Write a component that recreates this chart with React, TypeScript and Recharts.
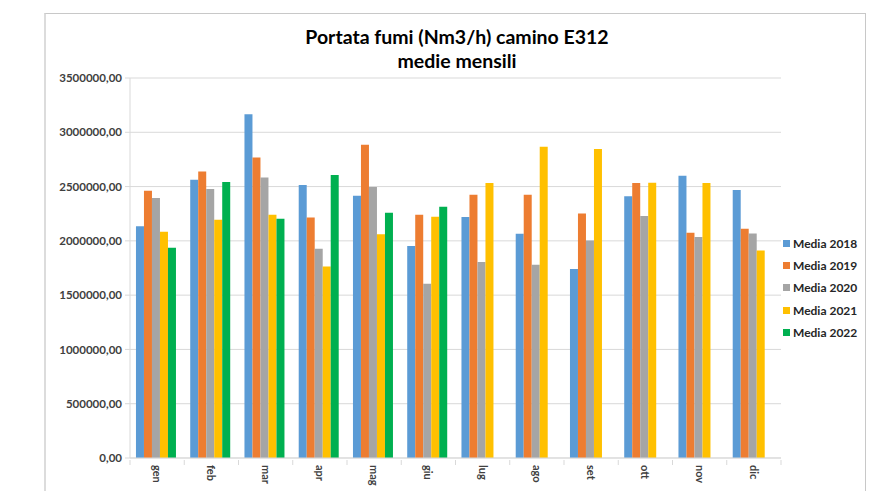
import React from "react";
import { BarChart, Bar, XAxis, YAxis, CartesianGrid, Legend } from "recharts";

const months = ["gen", "feb", "mar", "apr", "mag", "giu", "lug", "ago", "set", "ott", "nov", "dic"];
const media2018 = [2135000, 2563000, 3167000, 2514000, 2415000, 1952000, 2219000, 2065000, 1740000, 2412000, 2599000, 2468000];
const media2019 = [2461000, 2639000, 2768000, 2215000, 2885000, 2240000, 2424000, 2424000, 2252000, 2532000, 2074000, 2111000];
const media2020 = [2394000, 2477000, 2584000, 1927000, 2495000, 1605000, 1805000, 1780000, 2004000, 2228000, 2035000, 2068000];
const media2021 = [2084000, 2194000, 2240000, 1764000, 2062000, 2222000, 2532000, 2866000, 2845000, 2535000, 2532000, 1912000];
const media2022 = [1936000, 2541000, 2203000, 2606000, 2259000, 2314000, null, null, null, null, null, null];
const yTicks = [0, 500000, 1000000, 1500000, 2000000, 2500000, 3000000, 3500000];

const seriesDefs = [
  { key: "m2018", name: "Media 2018", color: "#5B9BD5", values: media2018 },
  { key: "m2019", name: "Media 2019", color: "#ED7D31", values: media2019 },
  { key: "m2020", name: "Media 2020", color: "#A5A5A5", values: media2020 },
  { key: "m2021", name: "Media 2021", color: "#FFC000", values: media2021 },
  { key: "m2022", name: "Media 2022", color: "#00B050", values: media2022 },
];

const data = months.map((m, i) => {
  const row: any = { month: m };
  seriesDefs.forEach((s) => {
    row[s.key] = s.values[i];
  });
  return row;
});

const FONT = "Lato, 'Open Sans', sans-serif";

const fmt = (v: number) => v.toFixed(2).replace(".", ",");

const XTick = (props: any) => {
  const { x, y, payload, index, visibleTicksCount } = props;
  const off = payload && typeof payload.offset === "number" ? payload.offset : 0;
  const axisY = y - 6;
  return (
    <g>
      {off > 0 && <line x1={x - off} x2={x - off} y1={axisY} y2={axisY + 5} stroke="#d9d9d9" />}
      {off > 0 && index === (visibleTicksCount ?? 12) - 1 && (
        <line x1={x + off} x2={x + off} y1={axisY} y2={axisY + 5} stroke="#d9d9d9" />
      )}
      <text
        x={x}
        y={axisY + 5}
        transform={`rotate(90, ${x}, ${axisY + 5})`}
        textAnchor="start"
        dy="0.36em"
        fontFamily={FONT}
        fontWeight={700}
        fontSize={11}
        fill="#404040"
      >
        {payload.value}
      </text>
    </g>
  );
};

const LegendContent = () => (
  <div style={{ fontFamily: FONT }}>
    {seriesDefs.map((s) => (
      <div key={s.key} style={{ display: "flex", alignItems: "center", height: 22.3 }}>
        <span style={{ display: "inline-block", width: 7, height: 7, background: s.color, marginRight: 3 }} />
        <span style={{ fontSize: 12, fontWeight: 700, color: "#262626" }}>{s.name}</span>
      </div>
    ))}
  </div>
);

export default function App() {
  return (
    <div style={{ position: "absolute", left: 0, top: 0, width: 871, height: 491, background: "#fff" }}>
      <div
        style={{
          position: "absolute",
          left: 44,
          top: 13,
          width: 822,
          height: 490,
          borderTop: "1px solid #c8c8c8",
          borderLeft: "2px solid #dcdcdc",
          borderRight: "1px solid #c8c8c8",
          boxSizing: "border-box",
        }}
      />
      <div
        style={{
          position: "absolute",
          left: 0,
          width: 914,
          top: 25,
          textAlign: "center",
          fontFamily: FONT,
          fontWeight: 700,
          fontSize: 19.5,
          lineHeight: "24px",
          color: "#000",
        }}
      >
        <div>Portata fumi (Nm3/h) camino E312</div>
        <div>medie mensili</div>
      </div>
      <BarChart
        width={871}
        height={491}
        data={data}
        margin={{ top: 78, right: 90, bottom: 0, left: 0 }}
        barCategoryGap="11%"
        barGap={0}
        style={{ position: "absolute", left: 0, top: 0 }}
      >
        <CartesianGrid vertical={false} stroke="#d9d9d9" />
        <XAxis
          dataKey="month"
          axisLine={{ stroke: "#d9d9d9" }}
          tickLine={false}
          interval={0}
          height={33}
          tick={<XTick />}
        />
        <YAxis
          width={130}
          domain={[0, 3500000]}
          ticks={yTicks}
          interval={0}
          tickFormatter={fmt}
          axisLine={{ stroke: "#d9d9d9" }}
          tickLine={{ stroke: "#d9d9d9" }}
          tickSize={5}
          tickMargin={3}
          tick={{ fontFamily: FONT, fontWeight: 700, fontSize: 11.5, fill: "#404040" }}
        />
        <Legend
          layout="horizontal"
          align="center"
          verticalAlign="middle"
          content={<LegendContent />}
          wrapperStyle={{ left: 783, top: 232, width: 88 }}
        />
        {seriesDefs.map((s) => (
          <Bar key={s.key} dataKey={s.key} name={s.name} fill={s.color} isAnimationActive={false} />
        ))}
      </BarChart>
    </div>
  );
}
